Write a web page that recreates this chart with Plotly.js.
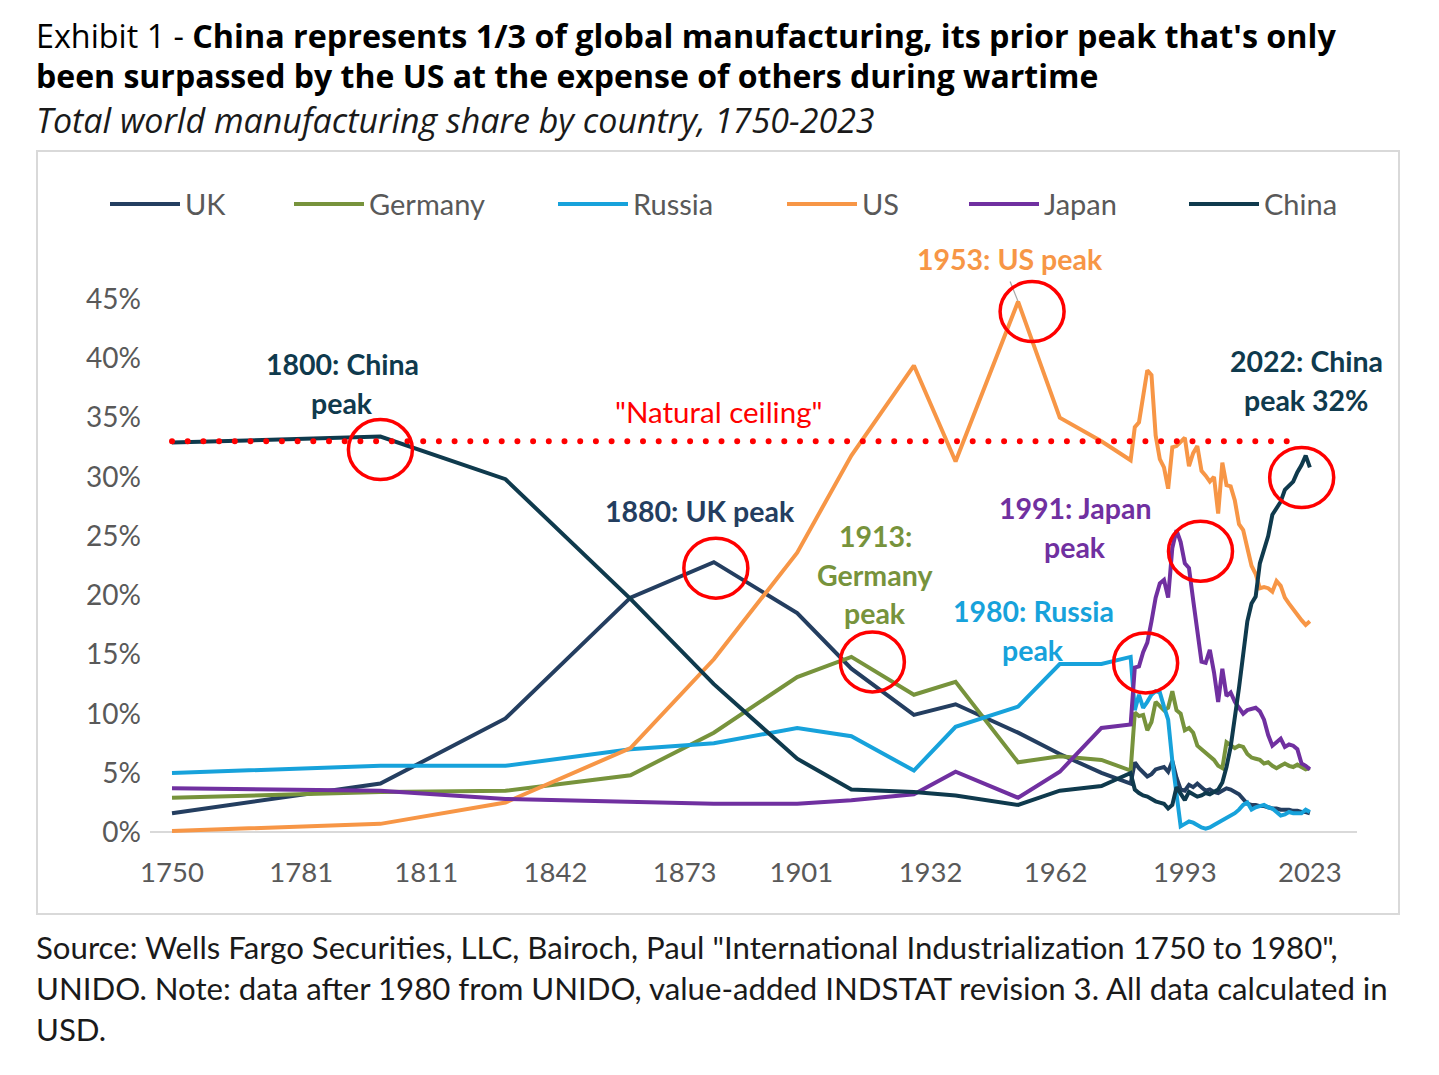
<!DOCTYPE html>
<html>
<head>
<meta charset="utf-8">
<script src="https://cdn.plot.ly/plotly-3.0.1.min.js"></script>
<style>
  html, body { margin: 0; padding: 0; background: #fff; }
  #chart { width: 1439px; height: 1075px; }
  /* round caps turn the zero-length dashes of the ceiling into dots */
  .scatterlayer .trace:last-child path.js-line { stroke-linecap: round; }
</style>
</head>
<body>
<div id="chart"></div>
<script>
// Years: Bairoch benchmark years, then annual UNIDO data
const years = [1750, 1800, 1830, 1860, 1880, 1900, 1913, 1928, 1938, 1953, 1963, 1973, 1980,
  1981, 1982, 1983, 1984, 1985, 1986, 1987, 1988, 1989, 1990,
  1991, 1992, 1993, 1994, 1995, 1996, 1997, 1998, 1999, 2000,
  2001, 2002, 2003, 2004, 2005, 2006, 2007, 2008, 2009, 2010,
  2011, 2012, 2013, 2014, 2015, 2016, 2017, 2018, 2019, 2020,
  2021, 2022, 2023];

// Share of world manufacturing, %
const uk = [1.6, 4.1, 9.6, 19.8, 22.8, 18.5, 13.8, 9.9, 10.8, 8.4, 6.6, 5.0, 4.1,
  5.9, 5.4, 5.0, 4.7, 4.9, 5.3, 5.4, 5.5, 5.1, 6.0,
  4.6, 3.6, 3.5, 4.0, 3.8, 4.1, 3.8, 3.5, 3.6, 3.4,
  3.3, 3.5, 3.7, 3.6, 3.4, 3.2, 2.8, 2.4, 2.3, 2.3,
  2.2, 2.2, 2.1, 2.0, 2.0, 1.9, 1.9, 1.9, 1.8, 1.8,
  1.7, 1.7, 1.6];
const germany = [2.9, 3.4, 3.5, 4.8, 8.4, 13.1, 14.8, 11.6, 12.7, 5.9, 6.4, 6.1, 5.2,
  10.1, 9.8, 9.9, 8.6, 9.3, 11.0, 10.6, 10.3, 10.5, 11.9,
  10.3, 10.0, 8.6, 8.8, 8.4, 7.3, 7.0, 6.7, 6.4, 6.1,
  5.6, 5.4, 7.6, 7.3, 7.1, 7.3, 7.2, 6.6, 6.3, 6.2,
  6.1, 5.8, 5.9, 5.6, 5.4, 5.6, 5.8, 5.6, 5.5, 5.7,
  5.5, 5.3, 5.4];
const russia = [5.0, 5.6, 5.6, 7.0, 7.5, 8.8, 8.1, 5.2, 8.9, 10.6, 14.2, 14.2, 14.8,
  10.3, 11.6, 10.5, 11.0, 11.6, 11.9, 11.8, 10.6, 9.5, 6.0,
  3.2, 0.5, 0.7, 0.9, 0.8, 0.6, 0.4, 0.3, 0.4, 0.6,
  0.8, 1.0, 1.2, 1.4, 1.6, 1.9, 2.3, 2.5, 1.9, 2.1,
  2.2, 2.3, 2.1, 2.0, 1.7, 1.4, 1.5, 1.7, 1.6, 1.6,
  1.6, 1.9, 1.7];
const us = [0.1, 0.7, 2.5, 7.1, 14.6, 23.6, 31.8, 39.4, 31.3, 44.8, 35.0, 33.0, 31.4,
  34.2, 34.6, 37.0, 39.0, 38.6, 33.5, 31.5, 30.8, 29.0, 32.5,
  32.6, 33.0, 33.3, 30.9, 32.0, 32.6, 30.5, 30.1, 29.6, 30.0,
  26.9, 31.2, 29.3, 29.2, 28.0, 26.0, 25.5, 24.0, 22.5, 21.8,
  20.6, 20.7, 20.6, 20.3, 21.2, 20.8, 19.8, 19.3, 18.8, 18.3,
  17.9, 17.5, 17.8];
const japan = [3.7, 3.5, 2.8, 2.6, 2.4, 2.4, 2.7, 3.2, 5.1, 2.9, 5.1, 8.8, 9.1,
  13.9, 14.0, 15.2, 16.0, 17.8, 19.8, 21.0, 21.3, 19.8, 24.0,
  25.5, 24.5, 22.7, 22.3, 19.6, 17.2, 14.4, 14.3, 15.4, 13.5,
  11.0, 13.8, 11.5, 11.8, 11.0, 10.5, 10.0, 10.3, 10.4, 10.5,
  10.2, 9.5, 8.2, 7.3, 7.6, 7.9, 7.2, 7.4, 7.3, 7.0,
  5.8, 5.6, 5.3];
const china = [32.9, 33.4, 29.8, 19.7, 12.5, 6.2, 3.6, 3.4, 3.1, 2.3, 3.5, 3.9, 5.0,
  3.6, 3.3, 3.1, 3.0, 2.8, 2.6, 2.5, 2.4, 2.0, 2.3,
  3.8, 3.2, 2.7, 3.4, 3.2, 3.0, 3.1, 3.3, 3.2, 3.4,
  3.6, 4.2, 5.5, 7.2, 9.5, 12.2, 15.0, 17.8, 19.3, 19.9,
  22.7, 24.0, 25.0, 26.8, 27.3, 27.9, 28.9, 29.2, 29.6, 30.4,
  31.0, 31.8, 30.8];

const ceilingYears = [1750, 2021];
const ceilingValues = [33, 33];

const seriesNames = ['UK', 'Germany', 'Russia', 'US', 'Japan', 'China'];
const seriesValues = [uk, germany, russia, us, japan, china];
const seriesColors = ['#243e60', '#77933c', '#17a2db', '#f79646', '#7030a0', '#0f3a4d'];

const xTicks = [1750, 1781, 1811, 1842, 1873, 1901, 1932, 1962, 1993, 2023];
const yTicks = [0, 5, 10, 15, 20, 25, 30, 35, 40, 45];

// page geometry (pixels)
const W = 1439, H = 1075;
const M = { l: 150, r: 82, t: 240, b: 231 };
const PW = W - M.l - M.r, PH = H - M.t - M.b;
const fx = px => (px - M.l) / PW;
const fy = py => (H - M.b - py) / PH;
const FONT = 'Lato, "Open Sans", sans-serif';
const HEAD_FONT = '"Open Sans", Lato, sans-serif';

const traces = seriesNames.map((name, i) => ({
  x: years, y: seriesValues[i], name: name,
  type: 'scatter', mode: 'lines',
  line: { color: seriesColors[i], width: 4 },
  hoverinfo: 'skip'
}));
traces.push({
  x: ceilingYears, y: ceilingValues, name: 'Natural ceiling',
  type: 'scatter', mode: 'lines',
  line: { color: '#ff0000', width: 6, dash: '0px,15.7px' },
  hoverinfo: 'skip'
});

const annotations = [];
const shapes = [];

function text(str, px, py, opts) {
  annotations.push(Object.assign({
    text: str, xref: 'paper', yref: 'paper', x: fx(px), y: fy(py),
    xanchor: 'center', yanchor: 'middle', showarrow: false,
    font: { family: FONT, size: 26, color: '#000' }
  }, opts || {}));
}

// titles
text('Exhibit 1 - <b>China represents 1/3 of global manufacturing, its prior peak that\'s only</b>', 34, 35,
  { xanchor: 'left', font: { family: HEAD_FONT, size: 32.3, color: '#000' } });
text('<b>been surpassed by the US at the expense of others during wartime</b>', 34, 75,
  { xanchor: 'left', font: { family: HEAD_FONT, size: 32, color: '#000' } });
text('<i>Total world manufacturing share by country, 1750-2023</i>', 34, 120,
  { xanchor: 'left', font: { family: HEAD_FONT, size: 34, color: '#1a1a1a' } });

// source
const sourceLines = [
  'Source: Wells Fargo Securities, LLC, Bairoch, Paul "International Industrialization 1750 to 1980",',
  'UNIDO. Note: data after 1980 from UNIDO, value-added INDSTAT revision 3. All data calculated in',
  'USD.'
];
sourceLines.forEach((s, i) => text(s, 34, 947 + i * 41,
  { xanchor: 'left', font: { family: FONT, size: 31.2, color: '#1a1a1a' } }));

// chart frame
shapes.push({ type: 'rect', xref: 'paper', yref: 'paper', x0: fx(37), x1: fx(1399), y0: fy(914), y1: fy(151),
  line: { color: '#d9d9d9', width: 2 }, layer: 'below' });

// legend drawn by hand for the long Excel-style keys
const legendX = [110, 294, 558, 787, 969, 1189];
seriesNames.forEach((name, i) => {
  shapes.push({ type: 'line', xref: 'paper', yref: 'paper', x0: fx(legendX[i]), x1: fx(legendX[i] + 70),
    y0: fy(204), y1: fy(204), line: { color: seriesColors[i], width: 4 } });
  text(name, legendX[i] + 73, 204, { xanchor: 'left', font: { family: FONT, size: 29, color: '#595959' } });
});

// peak labels
const labels = [
  { lines: ['1800: China', 'peak'], x: 342, y: 364, color: '#0f3a4d' },
  { lines: ['1880: UK peak'], x: 700, y: 511, color: '#243e60' },
  { lines: ['1913:', 'Germany', 'peak'], x: 875, y: 536, color: '#77933c' },
  { lines: ['1953: US peak'], x: 1010, y: 259, color: '#f79646' },
  { lines: ['1991: Japan', 'peak'], x: 1075, y: 508, color: '#7030a0' },
  { lines: ['1980: Russia', 'peak'], x: 1033, y: 611, color: '#17a2db' },
  { lines: ['2022: China', 'peak 32%'], x: 1306, y: 361, color: '#0f3a4d' }
];
labels.forEach(l => l.lines.forEach((s, k) =>
  text('<b>' + s + '</b>', l.x, l.y + k * 38.5, { font: { family: FONT, size: 28.5, color: l.color } })));
text('"Natural ceiling"', 718, 411, { font: { family: FONT, size: 29.5, color: '#ff0000' } });

// red rings around each peak, anchored to the data point (pixel offsets)
const peaks = [
  { series: china, year: 1800, dx: 0, dy: -13 },
  { series: uk, year: 1880, dx: 2, dy: -6 },
  { series: germany, year: 1913, dx: 21, dy: -5 },
  { series: us, year: 1953, dx: 14, dy: -10 },
  { series: russia, year: 1980, dx: 15, dy: -6 },
  { series: japan, year: 1991, dx: 24, dy: -21 },
  { series: china, year: 2022, dx: -4, dy: -22 }
];
peaks.forEach(p => {
  const v = p.series[years.indexOf(p.year)];
  shapes.push({ type: 'circle', xref: 'x', yref: 'y',
    xsizemode: 'pixel', ysizemode: 'pixel', xanchor: p.year, yanchor: v,
    x0: p.dx - 32, x1: p.dx + 32, y0: p.dy - 30, y1: p.dy + 30,
    line: { color: '#ff0000', width: 3.5 } });
});
// thin leader from the US label to its peak
shapes.push({ type: 'line', xref: 'x', yref: 'y', xsizemode: 'pixel', ysizemode: 'pixel',
  xanchor: 1953, yanchor: us[years.indexOf(1953)], x0: -8, x1: 0, y0: 20, y1: 0,
  line: { color: '#a6a6a6', width: 1.2 }, layer: 'below' });

const layout = {
  width: W, height: H,
  margin: M,
  paper_bgcolor: '#fff', plot_bgcolor: '#fff',
  showlegend: false,
  font: { family: FONT, color: '#595959' },
  xaxis: {
    range: [1750 - 22 / 4.168, 1750 + (PW - 22) / 4.168],
    tickmode: 'array', tickvals: xTicks, ticktext: xTicks.map(String),
    showgrid: false, zeroline: false, showline: false, ticks: '',
    tickfont: { family: FONT, size: 27.5, color: '#595959' },
    ticklabelstandoff: 9
  },
  yaxis: {
    range: [-1, 50],
    tickmode: 'array', tickvals: yTicks, ticktext: yTicks.map(v => v + '%'),
    showgrid: false, zeroline: true, zerolinecolor: '#d9d9d9', zerolinewidth: 2,
    showline: false, ticks: '',
    tickfont: { family: FONT, size: 28, color: '#595959' },
    ticklabelstandoff: 8
  },
  annotations: annotations,
  shapes: shapes
};

Plotly.newPlot('chart', traces, layout, { staticPlot: true });
</script>
</body>
</html>
